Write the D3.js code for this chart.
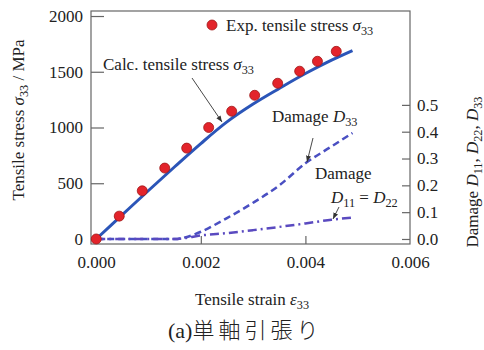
<!DOCTYPE html>
<html>
<head>
  <meta charset="utf-8">
  <title>Uniaxial tension</title>
  <style>
    body { margin: 0; padding: 0; background: white; }
    svg text { font-family: "Liberation Serif", "Times New Roman", serif; fill: #222; }
  </style>
</head>
<body>
  <div id="chart"></div>
  <script src="https://d3js.org/d3.v7.min.js"></script>
  <script>

  // experimental points (strain, stress MPa)
  var expStrain = [0, 0.00044, 0.00088, 0.00131, 0.00173, 0.00215, 0.00259, 0.00303, 0.00347, 0.00389, 0.00423, 0.00459]
  var expStress = [0, 205, 432, 636, 815, 1000, 1146, 1289, 1397, 1505, 1594, 1683]

  // calculated curves
  var calcStrain = [0, 0.0005, 0.001, 0.0015, 0.002, 0.0025, 0.003, 0.0035, 0.004, 0.0045, 0.0049]
  var calcStress = [0, 218, 435, 648, 856, 1050, 1210, 1350, 1484, 1604, 1690]

  var damStrain = [0, 0.0015, 0.0017, 0.002, 0.0025, 0.003, 0.0035, 0.004, 0.0045, 0.0049]
  var damD33 = [0, 0, 0.006, 0.027, 0.078, 0.135, 0.2, 0.282, 0.345, 0.395]
  var damD11 = [0, 0, 0.004, 0.013, 0.022, 0.033, 0.045, 0.058, 0.072, 0.08]

  var xTicks = [0, 0.002, 0.004, 0.006]
  var yTicks = [0, 500, 1000, 1500, 2000]
  var rTicks = [0, 0.1, 0.2, 0.3, 0.4, 0.5]

  var width = 484,
      height = 350

  var svg = d3.select("#chart").append("svg")
      .attr("width", width)
      .attr("height", height)

  var x = d3.scaleLinear().domain([-0.0001, 0.006]).range([91, 410])
  var yL = d3.scaleLinear().domain([-45, 2045]).range([244, 11])
  var yR = d3.scaleLinear().domain([-0.0187, 0.85]).range([244, 11])

  var frameColor = "#666"
  var serif = "'Liberation Serif', 'Times New Roman', serif"
  var fs = 17

  // frame
  svg.append("rect")
    .attr("x", 91).attr("y", 11)
    .attr("width", 319).attr("height", 233)
    .attr("fill", "none")
    .attr("stroke", frameColor)
    .attr("stroke-width", 1.2)

  // axes with inward ticks
  var gx = svg.append("g")
    .attr("transform", "translate(0,244)")
    .call(d3.axisBottom(x).tickValues(xTicks).tickSize(-8).tickPadding(12).tickFormat(d3.format(".3f")))
  var gy = svg.append("g")
    .attr("transform", "translate(91,0)")
    .call(d3.axisLeft(yL).tickValues(yTicks).tickSize(-13).tickPadding(8).tickFormat(d3.format("d")))
  var gr = svg.append("g")
    .attr("transform", "translate(410,0)")
    .call(d3.axisRight(yR).tickValues(rTicks).tickSize(-8).tickPadding(7).tickFormat(d3.format(".1f")))

  ;[gx, gy, gr].forEach(function (g) {
    g.attr("font-family", serif).attr("font-size", fs)
    g.select(".domain").remove()
    g.selectAll(".tick line").attr("stroke", frameColor).attr("stroke-width", 1.2)
    g.selectAll(".tick text").attr("fill", "#222").style("font-family", serif)
  })
  gx.selectAll(".tick").filter(function (d) { return d === 0 || d === 0.006 }).select("line").remove()

  // lines
  var line = d3.line().curve(d3.curveCatmullRom)

  svg.append("path")
    .attr("d", line(calcStrain.map(function (s, i) { return [x(s), yL(calcStress[i])] })))
    .attr("fill", "none")
    .attr("stroke", "#2b55b8")
    .attr("stroke-width", 3)

  var lineM = d3.line().curve(d3.curveMonotoneX)

  svg.append("path")
    .attr("d", lineM(damStrain.map(function (s, i) { return [x(s), yR(damD33[i])] })))
    .attr("fill", "none")
    .attr("stroke", "#4a4fc2")
    .attr("stroke-width", 2.5)
    .attr("stroke-dasharray", "7,4")

  svg.append("path")
    .attr("d", lineM(damStrain.map(function (s, i) { return [x(s), yR(damD11[i])] })))
    .attr("fill", "none")
    .attr("stroke", "#5a4ac0")
    .attr("stroke-width", 2.5)
    .attr("stroke-dasharray", "9,4,2,4")

  // exp points
  svg.append("g").selectAll("circle")
    .data(expStrain)
    .enter().append("circle")
    .attr("cx", function (d) { return x(d) })
    .attr("cy", function (d, i) { return yL(expStress[i]) })
    .attr("r", 5)
    .attr("fill", "#e3242b")
    .attr("stroke", "#a01818")
    .attr("stroke-width", 0.8)

  // legend marker
  svg.append("circle")
    .attr("cx", 212).attr("cy", 25).attr("r", 5)
    .attr("fill", "#e3242b").attr("stroke", "#a01818").attr("stroke-width", 0.8)

  // helper for text with italic symbol + subscript
  function label(g, x0, y0, parts, size) {
    var t = g.append("text").attr("x", x0).attr("y", y0).style("font-size", size + "px")
    parts.forEach(function (p) {
      var ts = t.append("tspan").text(p.t)
      if (p.i) ts.style("font-style", "italic")
      if (p.sub) ts.attr("dy", 4).style("font-size", (size * 0.72) + "px")
      if (p.up) ts.attr("dy", -4)
    })
    return t
  }

  label(svg, 226, 31, [{t: "Exp. tensile stress "}, {t: "σ", i: true}, {t: "33", sub: true}], fs)
  label(svg, 103, 70, [{t: "Calc. tensile stress "}, {t: "σ", i: true}, {t: "33", sub: true}], fs)
  label(svg, 272, 122, [{t: "Damage "}, {t: "D", i: true}, {t: "33", sub: true}], fs)
  label(svg, 315, 179, [{t: "Damage"}], fs)
  label(svg, 331, 203, [{t: "D", i: true}, {t: "11", sub: true}, {t: " = ", up: true}, {t: "D", i: true}, {t: "22", sub: true}], fs)

  // arrows
  var defs = svg.append("defs")
  defs.append("marker")
    .attr("id", "arr")
    .attr("viewBox", "0 0 10 10")
    .attr("refX", 10).attr("refY", 5)
    .attr("markerWidth", 7).attr("markerHeight", 7)
    .attr("orient", "auto")
    .append("path").attr("d", "M0,1 L10,5 L0,9 Z").attr("fill", "#333")

  var arrows = [[192, 78, 222, 122], [313, 138, 307, 162], [339, 207, 333, 219]]
  arrows.forEach(function (a) {
    svg.append("line")
      .attr("x1", a[0]).attr("y1", a[1]).attr("x2", a[2]).attr("y2", a[3])
      .attr("stroke", "#333").attr("stroke-width", 0.9)
      .attr("marker-end", "url(#arr)")
  })

  // axis titles
  var yt = svg.append("g").attr("transform", "translate(24,120) rotate(-90)")
  label(yt, 0, 0, [{t: "Tensile stress "}, {t: "σ", i: true}, {t: "33", sub: true}, {t: " / MPa", up: true}], fs)
    .attr("text-anchor", "middle")

  var rt = svg.append("g").attr("transform", "translate(478,172) rotate(-90)")
  label(rt, 0, 0, [{t: "Damage "}, {t: "D", i: true}, {t: "11", sub: true}, {t: ", ", up: true}, {t: "D", i: true}, {t: "22", sub: true}, {t: ", ", up: true}, {t: "D", i: true}, {t: "33", sub: true}], fs)
    .attr("text-anchor", "middle")

  label(svg, 252, 305, [{t: "Tensile strain "}, {t: "ε", i: true}, {t: "33", sub: true}], fs)
    .attr("text-anchor", "middle")

  var cap = svg.append("text")
    .attr("x", 168).attr("y", 338)
  cap.append("tspan").style("font-size", "22px").text("(a)")
  cap.append("tspan")
    .style("font-family", "'Noto Sans CJK JP', sans-serif")
    .style("font-weight", 300)
    .style("font-size", "22px")
    .style("letter-spacing", "4px")
    .text("単軸引張り")

  </script>
</body>
</html>
